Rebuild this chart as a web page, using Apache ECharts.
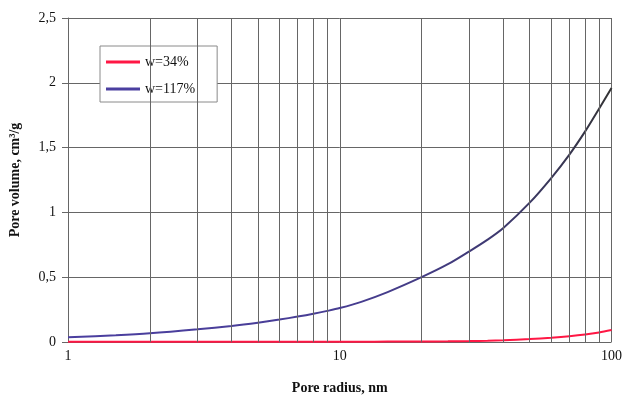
<!DOCTYPE html>
<html>
<head>
<meta charset="utf-8">
<script src="https://cdn.jsdelivr.net/npm/echarts@6/dist/echarts.min.js"></script>
<style>
  html, body { margin: 0; padding: 0; background: #ffffff; }
  #chart { width: 625px; height: 400px; }
</style>
</head>
<body>
<div id="chart"></div>
<script>
// Pore radius (nm) sampling points
const radius = [1, 1.5, 2, 3, 4, 5, 6, 7, 8, 9, 10, 12, 15, 20, 25, 30, 35, 40, 50, 60, 70, 80, 90, 100];
// Cumulative pore volume (cm3/g), w = 34%
const volW34 = [0.001, 0.001, 0.001, 0.001, 0.002, 0.002, 0.002, 0.002, 0.002, 0.002, 0.002, 0.002, 0.003, 0.004, 0.005, 0.007, 0.010, 0.014, 0.023, 0.033, 0.044, 0.057, 0.073, 0.092];
// Cumulative pore volume (cm3/g), w = 117%
const volW117 = [0.036, 0.052, 0.067, 0.098, 0.124, 0.149, 0.173, 0.196, 0.218, 0.24, 0.262, 0.31, 0.385, 0.5, 0.60, 0.70, 0.79, 0.88, 1.075, 1.265, 1.446, 1.625, 1.8, 1.96];
// Minor log gridlines between decades
const minorGrid = [2, 3, 4, 5, 6, 7, 8, 9, 20, 30, 40, 50, 60, 70, 80, 90];

const serif = '"Liberation Serif", "DejaVu Serif", serif';
const pair = (xs, ys) => xs.map((x, i) => [x, ys[i]]);
const gridColor = '#666666';

const chart = echarts.init(document.getElementById('chart'));
chart.setOption({
  animation: false,
  backgroundColor: '#ffffff',
  grid: { left: 68, right: 13, top: 18, bottom: 57, containLabel: false },
  legend: {
    orient: 'vertical',
    left: 100, top: 46,
    backgroundColor: '#ffffff',
    borderColor: '#8a8a8a', borderWidth: 1,
    padding: [9, 22, 6, 6],
    itemGap: 13,
    itemWidth: 34, itemHeight: 3,
    icon: 'rect',
    textStyle: { fontFamily: serif, fontSize: 14, color: '#111' },
    data: ['w=34%', 'w=117%']
  },
  xAxis: {
    type: 'log', logBase: 10, min: 1, max: 100,
    name: 'Pore radius, nm', nameLocation: 'middle', nameGap: 39,
    nameTextStyle: { fontFamily: serif, fontSize: 14, fontWeight: 'bold', color: '#111' },
    axisLine: { show: false },
    axisTick: { show: false },
    axisLabel: { fontFamily: serif, fontSize: 14, color: '#111', margin: 7 },
    splitLine: { show: true, lineStyle: { color: gridColor, width: 1 } }
  },
  yAxis: {
    type: 'value', min: 0, max: 2.5, interval: 0.5,
    name: 'Pore volume, cm\u00b3/g', nameLocation: 'middle', nameGap: 46,
    nameTextStyle: { fontFamily: serif, fontSize: 14, fontWeight: 'bold', color: '#111' },
    axisLine: { show: true, lineStyle: { color: gridColor, width: 1 } },
    axisTick: { show: true, inside: false, length: 6, lineStyle: { color: gridColor } },
    axisLabel: {
      fontFamily: serif, fontSize: 14, color: '#111', margin: 12,
      formatter: v => String(v).replace('.', ',')
    },
    splitLine: { show: true, lineStyle: { color: gridColor, width: 1 } }
  },
  series: [
    {
      name: 'w=34%', type: 'line', smooth: 0.3, showSymbol: false, z: 3,
      data: pair(radius, volW34),
      itemStyle: { color: '#ff1744' },
      lineStyle: { color: '#ff1744', width: 2 },
      markLine: {
        silent: true, symbol: 'none', label: { show: false },
        lineStyle: { color: gridColor, width: 1, type: 'solid' },
        data: minorGrid.map(v => ({ xAxis: v }))
      }
    },
    {
      name: 'w=117%', type: 'line', smooth: 0.3, showSymbol: false, z: 4,
      data: pair(radius, volW117),
      itemStyle: { color: '#4b3fa0' },
      lineStyle: {
        width: 2,
        color: new echarts.graphic.LinearGradient(0, 0, 0, 1, [
          { offset: 0, color: '#333333' },
          { offset: 0.5, color: '#3b3866' },
          { offset: 1, color: '#4b3fa0' }
        ])
      }
    }
  ]
});
</script>
</body>
</html>
